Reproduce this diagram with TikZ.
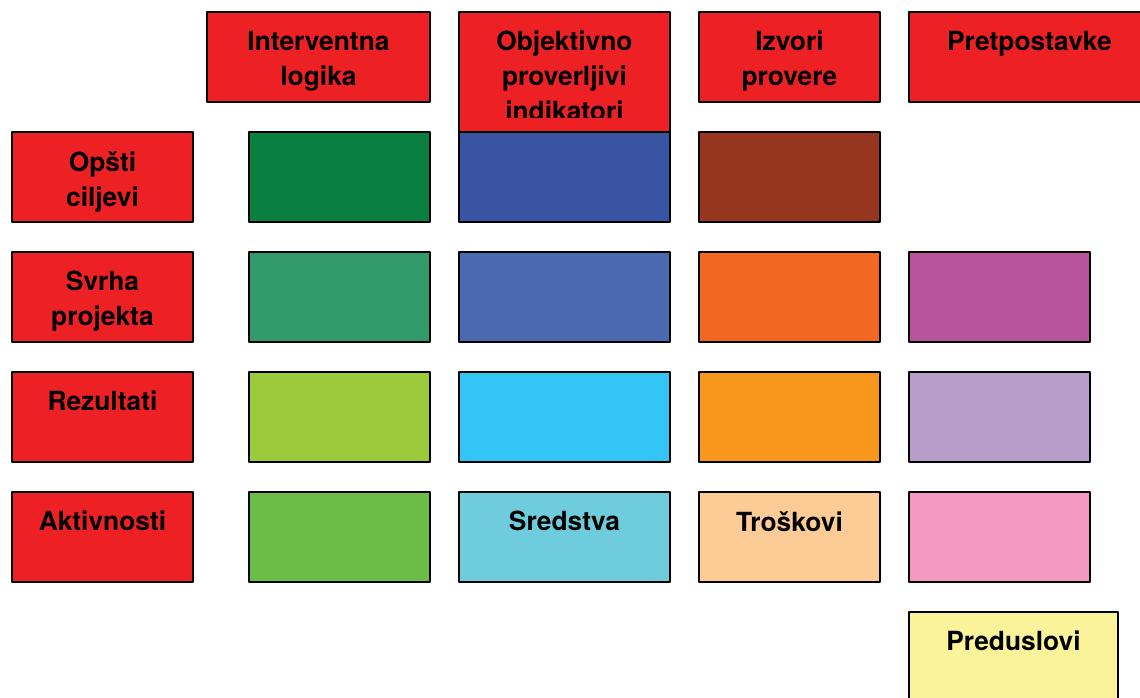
\documentclass[tikz,border=0pt]{standalone}
\usepackage{fontspec}
\setmainfont{TeX Gyre Heros}
\definecolor{hdrRed}{HTML}{ED2024}
\definecolor{goalGreen}{HTML}{0A8040}
\definecolor{goalBlue}{HTML}{3A54A4}
\definecolor{goalBrown}{HTML}{963520}
\definecolor{purpGreen}{HTML}{31996A}
\definecolor{purpBlue}{HTML}{4A69B0}
\definecolor{purpOrange}{HTML}{F26722}
\definecolor{purpViolet}{HTML}{B8549C}
\definecolor{resLime}{HTML}{9BCB3B}
\definecolor{resCyan}{HTML}{33C5F3}
\definecolor{resOrange}{HTML}{F7981D}
\definecolor{resLilac}{HTML}{B89CC9}
\definecolor{actGreen}{HTML}{6ABD45}
\definecolor{actTeal}{HTML}{6ECCDD}
\definecolor{actPeach}{HTML}{FDCB96}
\definecolor{actPink}{HTML}{F49AC1}
\definecolor{preYellow}{HTML}{FAF39A}
\begin{document}
\begin{tikzpicture}[x=0.02cm, y=-0.02cm, line join=round,
	box/.style={draw, line width=1pt, anchor=north west, minimum width=3.62cm, minimum height=1.8cm, inner sep=0pt, outer sep=0pt},
	wide/.style={box, minimum width=4.22cm},
	lbl/.style={anchor=north, yshift=-0.38cm, inner sep=0pt, align=center, font=\fontsize{15}{19.9}\selectfont\bfseries}]
	\useasboundingbox (0,0) rectangle (1140,697);
	\clip (0,0) rectangle (1140,697);
	% zaglavlje
	\node[box, fill=hdrRed, minimum width=4.46cm, label={[lbl]north:{Interventna\\logika}}] (il) at (207,12) {};
	\node[wide, fill=hdrRed, minimum height=2.4cm] (opi) at (459,12) {};
	\begin{scope}
		\clip (459,12) rectangle (670,117.5);
		\node[lbl] (opit) at (opi.north) {Objektivno\\proverljivi\\indikatori};
	\end{scope}
	\node[box, fill=hdrRed, label={[lbl]north:{Izvori\\provere}}] (ip) at (699,12) {};
	\node[box, fill=hdrRed, minimum width=4.82cm, label={[lbl]north:Pretpostavke}] (pp) at (909,12) {};
	% opsti ciljevi
	\node[box, fill=hdrRed, label={[lbl]north:{Opšti\\ciljevi}}] (oc) at (12,132) {};
	\node[box, fill=goalGreen] (oc1) at (249,132) {};
	\node[wide, fill=goalBlue] (oc2) at (459,132) {};
	\node[box, fill=goalBrown] (oc3) at (699,132) {};
	% svrha projekta
	\node[box, fill=hdrRed, label={[lbl]north:{Svrha\\projekta}}] (sp) at (12,252) {};
	\node[box, fill=purpGreen] (sp1) at (249,252) {};
	\node[wide, fill=purpBlue] (sp2) at (459,252) {};
	\node[box, fill=purpOrange] (sp3) at (699,252) {};
	\node[box, fill=purpViolet] (sp4) at (909,252) {};
	% rezultati
	\node[box, fill=hdrRed, label={[lbl]north:Rezultati}] (rz) at (12,372) {};
	\node[box, fill=resLime] (rz1) at (249,372) {};
	\node[wide, fill=resCyan] (rz2) at (459,372) {};
	\node[box, fill=resOrange] (rz3) at (699,372) {};
	\node[box, fill=resLilac] (rz4) at (909,372) {};
	% aktivnosti
	\node[box, fill=hdrRed, label={[lbl]north:Aktivnosti}] (ak) at (12,492) {};
	\node[box, fill=actGreen] (ak1) at (249,492) {};
	\node[wide, fill=actTeal, label={[lbl]north:Sredstva}] (ak2) at (459,492) {};
	\node[box, fill=actPeach, label={[lbl]north:Troškovi}] (ak3) at (699,492) {};
	\node[box, fill=actPink] (ak4) at (909,492) {};
	\node[box, fill=preYellow, minimum width=4.18cm, minimum height=2cm, label={[lbl]north:Preduslovi}] (pu) at (909,612) {};
\end{tikzpicture}
\end{document}
